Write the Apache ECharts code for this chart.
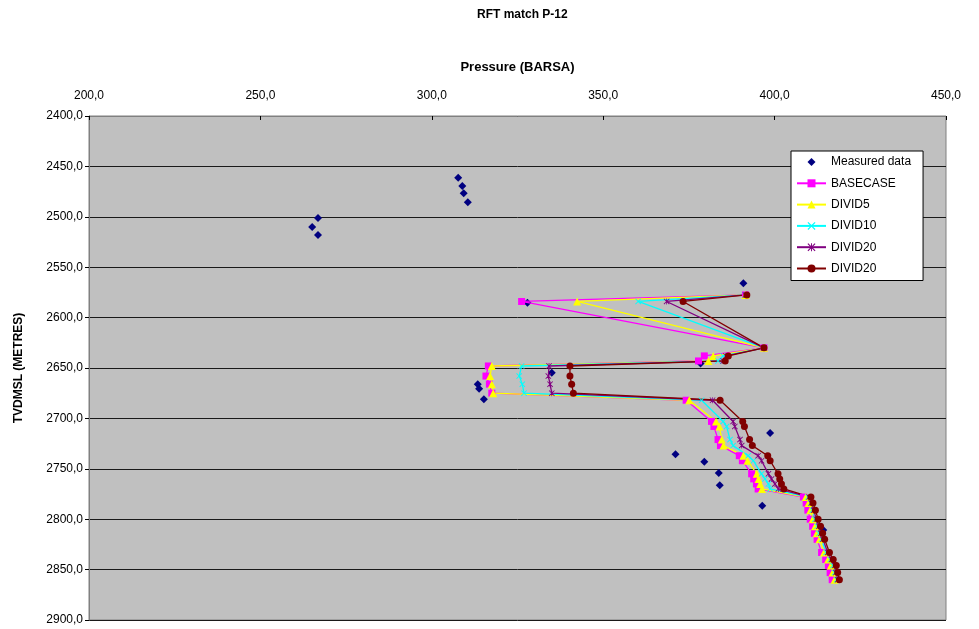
<!DOCTYPE html>
<html>
<head>
<meta charset="utf-8">
<script src="https://cdn.jsdelivr.net/npm/echarts@6/dist/echarts.min.js"></script>
<style>html,body{margin:0;padding:0;background:#fff;}#c{width:979px;height:629px;}</style>
</head>
<body>
<div id="c"></div>
<script>
// ---- data ----
const seriesNames = ['Measured data', 'BASECASE', 'DIVID5', 'DIVID10', 'DIVID20', 'DIVID20 '];
const xTicks = [200, 250, 300, 350, 400, 450];
const yTicks = [2400, 2450, 2500, 2550, 2600, 2650, 2700, 2750, 2800, 2850, 2900];

const measuredPressure = [307.7, 308.9, 309.3, 310.5, 266.8, 265.1, 266.8, 390.9, 327.9, 378.4, 335.0, 313.4, 313.8, 315.2, 398.7, 371.1, 379.5, 383.7, 384.0, 396.4, 414.2];
const measuredDepth    = [2461.2, 2469.4, 2476.7, 2485.6, 2501.2, 2510.1, 2518.1, 2566.0, 2585.2, 2645.5, 2654.7, 2666.2, 2670.5, 2681.1, 2714.5, 2735.6, 2743.0, 2754.2, 2766.4, 2786.6, 2810.7];

const simDepth = [2577.5, 2584, 2630, 2638, 2643, 2648, 2658, 2666, 2675, 2682, 2703, 2708, 2721, 2727, 2737, 2742, 2755, 2760, 2765, 2770, 2778, 2784, 2791, 2800, 2807, 2814, 2820, 2833, 2840, 2846, 2853, 2860];

const basecase = [391.5, 326.2, 396.9, 379.5, 377.8, 316.5, 315.8, 316.8, 317.5, 374.2, 381.6, 382.3, 383.5, 384.2, 389.7, 390.6, 393.3, 393.9, 394.7, 395.2, 408.4, 409.2, 409.7, 410.4, 411.1, 411.6, 412.4, 413.7, 414.9, 415.7, 416.2, 416.8];
const divid5   = [391.5, 342.4, 396.9, 382.1, 380.7, 317.5, 317.0, 317.5, 317.9, 375.1, 382.9, 383.9, 384.6, 385.1, 390.9, 392.1, 394.8, 395.3, 395.8, 396.3, 409.1, 409.9, 410.4, 411.1, 411.8, 412.3, 413.1, 414.4, 415.6, 416.4, 416.9, 417.5];
const divid10  = [391.5, 360.2, 396.9, 385.0, 383.5, 326.2, 325.5, 326.4, 326.9, 378.7, 385.0, 386.0, 387.0, 387.9, 392.3, 393.8, 396.2, 397.2, 398.2, 398.7, 409.7, 410.5, 411.0, 411.7, 412.4, 412.9, 413.7, 415.0, 416.2, 417.0, 417.5, 418.1];
const divid20a = [391.5, 368.5, 396.9, 385.8, 385.0, 334.2, 334.0, 334.5, 335.0, 381.9, 387.9, 388.4, 389.9, 390.4, 395.2, 396.2, 398.2, 399.1, 400.1, 401.1, 410.1, 410.7, 411.4, 412.2, 412.9, 413.5, 414.1, 415.5, 416.6, 417.5, 417.9, 418.4];
const divid20b = [391.9, 373.3, 396.9, 386.5, 385.6, 340.3, 340.3, 340.8, 341.3, 384.1, 390.7, 391.2, 392.7, 393.5, 398.0, 398.7, 401.0, 401.5, 402.0, 402.7, 410.6, 411.2, 411.9, 412.7, 413.4, 414.0, 414.6, 416.0, 417.1, 418.0, 418.4, 418.9];

// ---- build ----
const pair = (xs, ys) => xs.map((v, i) => [v, ys[i]]);
const fmt = v => v.toFixed(1).replace('.', ',');
const FONT = '"Liberation Sans", Arial, sans-serif';
const crossPath = 'path://M0,1L1,0L5,4L9,0L10,1L6,5L10,9L9,10L5,6L1,10L0,9L4,5Z';
const starPath = 'path://M0,1L1,0L5,4L9,0L10,1L6,5L10,9L9,10L5,6L1,10L0,9L4,5Z M4.4,0H5.6V10H4.4Z';

function simSeries(name, vals, color, symbol, size) {
  return {
    name: name, type: 'line', data: pair(vals, simDepth),
    symbol: symbol, symbolSize: size, showSymbol: true,
    lineStyle: { color: color, width: 1.3 },
    itemStyle: { color: color },
    emphasis: { disabled: true },
    animation: false
  };
}

const chart = echarts.init(document.getElementById('c'), null, { renderer: 'canvas' });
chart.setOption({
  backgroundColor: '#ffffff',
  animation: false,
  title: {
    text: 'RFT match P-12', left: 477, top: 9, padding: 0,
    textStyle: { fontFamily: FONT, fontSize: 12, fontWeight: 'bold', color: '#000' }
  },
  grid: {
    left: 89, right: 33, top: 116, bottom: 9,
    show: true, backgroundColor: '#C0C0C0', borderColor: '#808080', borderWidth: 1
  },
  legend: {
    orient: 'vertical', left: 791, top: 151,
    backgroundColor: '#ffffff', borderColor: '#000', borderWidth: 1,
    padding: [5, 12, 6, 5], itemWidth: 29, itemHeight: 10, itemGap: 9.3,
    textStyle: { fontFamily: FONT, fontSize: 12, color: '#000' },
    formatter: n => n.trim(),
    data: seriesNames
  },
  xAxis: {
    type: 'value', position: 'top', min: 200, max: 450, interval: 50,
    name: 'Pressure (BARSA)', nameLocation: 'middle', nameGap: 42,
    nameTextStyle: { fontFamily: FONT, fontSize: 13, fontWeight: 'bold', color: '#000' },
    axisLine: { show: true, lineStyle: { color: '#808080' } },
    axisTick: { show: true, inside: true, length: 4, lineStyle: { color: '#000' } },
    axisLabel: { formatter: fmt, fontFamily: FONT, fontSize: 12, color: '#000', margin: 14 },
    splitLine: { show: false }
  },
  yAxis: {
    type: 'value', inverse: true, min: 2400, max: 2900, interval: 50,
    name: 'TVDMSL (METRES)', nameLocation: 'middle', nameGap: 64, nameRotate: 90,
    nameTextStyle: { fontFamily: FONT, fontSize: 12, fontWeight: 'bold', color: '#000' },
    axisLine: { show: true, lineStyle: { color: '#808080' } },
    axisTick: { show: true, length: 4, lineStyle: { color: '#000' } },
    axisLabel: { formatter: fmt, fontFamily: FONT, fontSize: 12, color: '#000', margin: 6 },
    splitLine: { show: true, lineStyle: { color: '#1a1a1a', width: 1 } }
  },
  series: [
    {
      name: seriesNames[0], type: 'line', data: pair(measuredPressure, measuredDepth),
      symbol: 'diamond', symbolSize: 8, showSymbol: true,
      lineStyle: { width: 0, opacity: 0 },
      itemStyle: { color: '#000080' }, z: 2, emphasis: { disabled: true }
    },
    simSeries(seriesNames[1], basecase, '#FF00FF', 'rect', 7),
    simSeries(seriesNames[2], divid5, '#FFFF00', 'triangle', 8),
    simSeries(seriesNames[3], divid10, '#00FFFF', crossPath, 6),
    simSeries(seriesNames[4], divid20a, '#800080', starPath, 6),
    simSeries(seriesNames[5], divid20b, '#800000', 'circle', 7)
  ]
});
</script>
</body>
</html>
